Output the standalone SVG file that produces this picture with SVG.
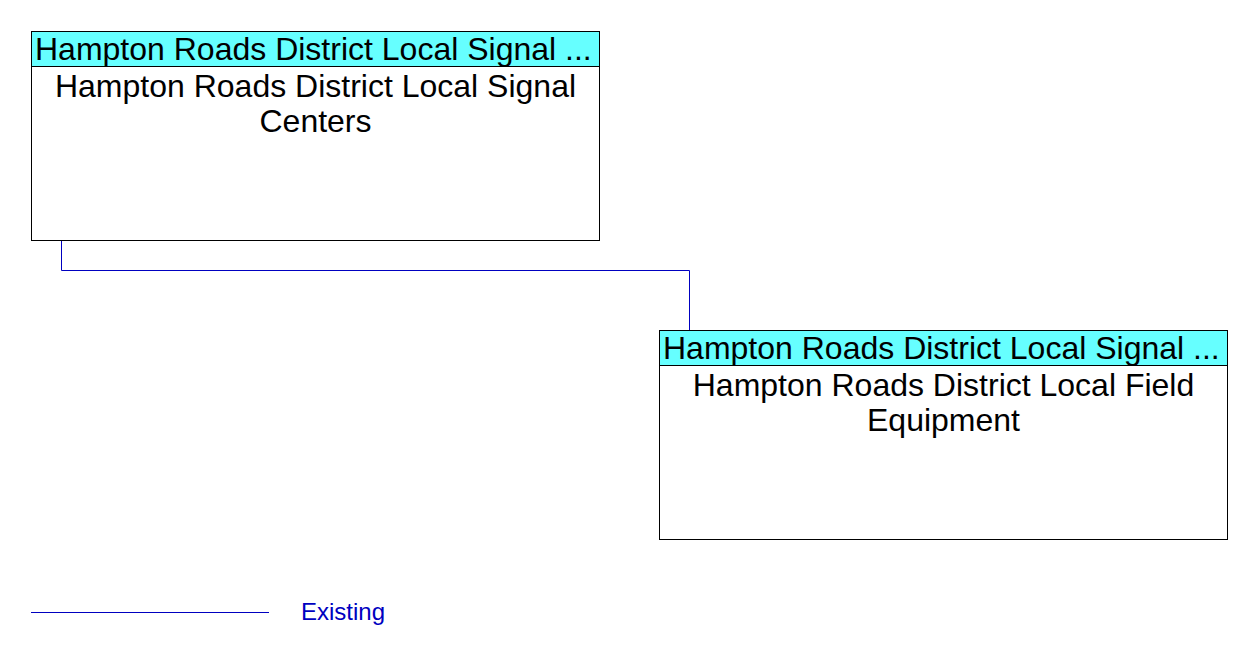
<svg xmlns="http://www.w3.org/2000/svg" width="1252" height="658" viewBox="0 0 1252 658">
<style>
.box{fill:#fff;stroke:#000;stroke-width:1}
.hdr{fill:#66ffff;stroke:#000;stroke-width:1}
.t{font-family:"Liberation Sans",Arial,sans-serif;font-size:32px;fill:#000;text-anchor:middle}
.th{font-family:"Liberation Sans",Arial,sans-serif;font-size:32px;fill:#000}
.conn{fill:none;stroke:#0000c0;stroke-width:1}
.leg{font-family:"Liberation Sans",Arial,sans-serif;font-size:24px;fill:#0000c0}
</style>
<rect width="1252" height="658" fill="#fff"/>
<g id="connectors">
<path class="conn" d="M61.5 240 V270.5 H689.5 V330"/>
</g>
<g id="node1">
<rect class="box" x="31.5" y="31.5" width="568" height="209"/>
<rect class="hdr" x="31.5" y="31.5" width="568" height="35"/>
<text class="th" x="35" y="60">Hampton Roads District Local Signal ...</text>
<text class="t" x="315.5" y="97">Hampton Roads District Local Signal</text>
<text class="t" x="315.5" y="132">Centers</text>
</g>
<g id="node2">
<rect class="box" x="659.5" y="330.5" width="568" height="209"/>
<rect class="hdr" x="659.5" y="330.5" width="568" height="35"/>
<text class="th" x="663" y="359">Hampton Roads District Local Signal ...</text>
<text class="t" x="943.5" y="396">Hampton Roads District Local Field</text>
<text class="t" x="943.5" y="431">Equipment</text>
</g>
<g id="legend">
<line class="conn" x1="31" y1="612.5" x2="269" y2="612.5"/>
<text class="leg" x="301" y="620">Existing</text>
</g>
</svg>
